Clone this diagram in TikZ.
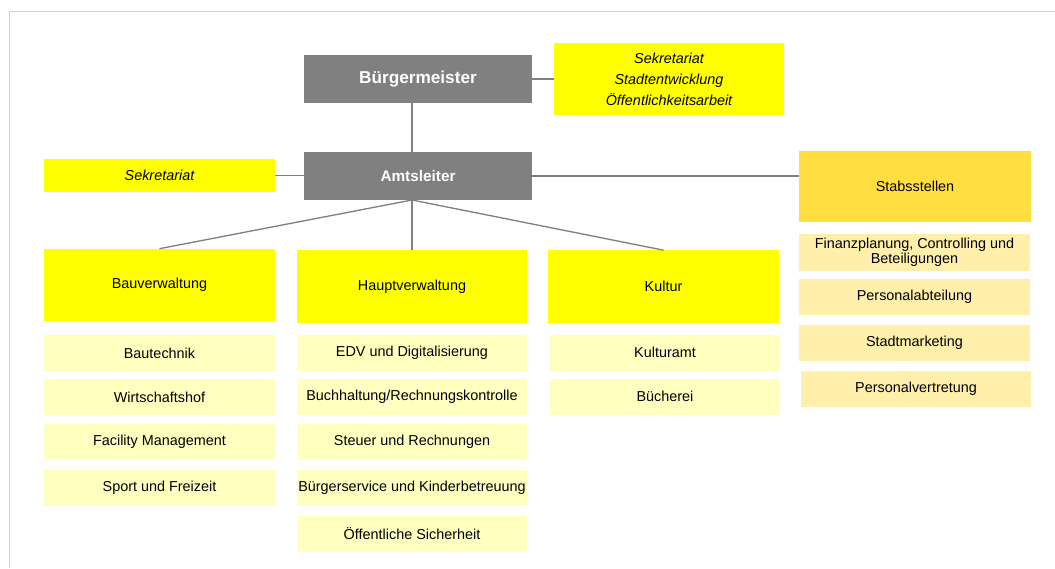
\documentclass[tikz,border=0pt]{standalone}
\usepackage{fontspec}
\setmainfont{Liberation Sans}
\usetikzlibrary{positioning}

\definecolor{boxgray}{HTML}{808080}
\definecolor{deptyellow}{HTML}{FFFF00}
\definecolor{unityellow}{HTML}{FFFFC0}
\definecolor{stabgold}{HTML}{FFDF40}
\definecolor{stabcream}{HTML}{FFEFAA}
\definecolor{framegray}{HTML}{D0D0D0}

\begin{document}
\begin{tikzpicture}[x=0.75pt,y=-0.75pt,
    every node/.style={inner sep=0pt,outer sep=0pt,align=center,font=\fontsize{10.8}{13}\selectfont},
    headbox/.style={fill=boxgray,text=white,minimum width=171pt,minimum height=36pt},
    deptbox/.style={fill=deptyellow,minimum width=173pt,minimum height=54.5pt},
    unitbox/.style={fill=unityellow,minimum width=173pt,minimum height=27pt},
    stabbox/.style={fill=stabcream,minimum width=173pt,minimum height=27pt},
    link/.style={draw=boxgray,line width=1pt}]
    \useasboundingbox (0,0) rectangle (1055,568);
    \draw[framegray,line width=1.1pt] (9.5,568) -- (9.5,11.5) -- (1055,11.5);

    % Leitung
    \node[headbox,font=\fontsize{12.9}{15}\selectfont\bfseries] (buerg) at (418,79) {Bürgermeister};
    \node[headbox,font=\fontsize{11.5}{14}\selectfont\bfseries] (amts) at (418,176) {Amtsleiter};
    \node[fill=deptyellow,minimum width=172.5pt,minimum height=54pt,
          font=\fontsize{10.8}{15.75}\selectfont\itshape] (sekbm) at (669,79)
          {Sekretariat\\Stadtentwicklung\\Öffentlichkeitsarbeit};
    \node[fill=deptyellow,minimum width=173pt,minimum height=24.75pt,font=\fontsize{10.8}{13}\selectfont\itshape]
          (sekal) at (159.5,175.5) {Sekretariat};
    \node[fill=stabgold,minimum width=174pt,minimum height=53.25pt] (stab) at (915,186.5) {Stabsstellen};

    % Bauverwaltung
    \node[deptbox] (bau) at (159.5,285) {Bauverwaltung};
    \node[unitbox] (bautech) at (159.5,353) {Bautechnik};
    \node[unitbox] (whof) at (159.5,397) {Wirtschaftshof};
    \node[unitbox] (facility) at (159.5,442) {Facility Management};
    \node[unitbox] (sport) at (159.5,488) {Sport und Freizeit};

    % Hauptverwaltung
    \node[deptbox] (haupt) at (412,286.5) {Hauptverwaltung};
    \node[unitbox] (edv) at (412,353) {EDV und Digitalisierung};
    \node[unitbox] (buchh) at (412,397) {Buchhaltung/Rechnungskontrolle};
    \node[unitbox] (steuer) at (412,442) {Steuer und Rechnungen};
    \node[unitbox] (bservice) at (412,488) {Bürgerservice und Kinderbetreuung};
    \node[unitbox] (sicher) at (412,534) {Öffentliche Sicherheit};

    % Kultur
    \node[deptbox] (kultur) at (663.5,286.5) {Kultur};
    \node[unitbox] (kamt) at (665,352.5) {Kulturamt};
    \node[unitbox] (buech) at (665,396.5) {Bücherei};

    % Stabsstellen
    \node[stabbox,minimum height=27.75pt,font=\fontsize{10.8}{9.5}\selectfont] (finanz) at (914.5,252.5)
          {Finanzplanung, Controlling und\\Beteiligungen};
    \node[stabbox] (personal) at (914.5,297) {Personalabteilung};
    \node[stabbox] (marketing) at (914.5,342.5) {Stadtmarketing};
    \node[stabbox] (pvertr) at (916,388.5) {Personalvertretung};

    \draw[link] (buerg) -- (sekbm);
    \draw[link] (sekal.east) -- (sekal.east -| amts.west);
    \draw[link] (amts.east) -- (amts.east -| stab.west);
    \draw[link] (haupt.north |- buerg.south) -- (haupt.north |- amts.north);
    \draw[link] (haupt.north |- amts.south) -- (bau.north);
    \draw[link] (haupt.north |- amts.south) -- (haupt.north);
    \draw[link] (haupt.north |- amts.south) -- (kultur.north);
\end{tikzpicture}
\end{document}
